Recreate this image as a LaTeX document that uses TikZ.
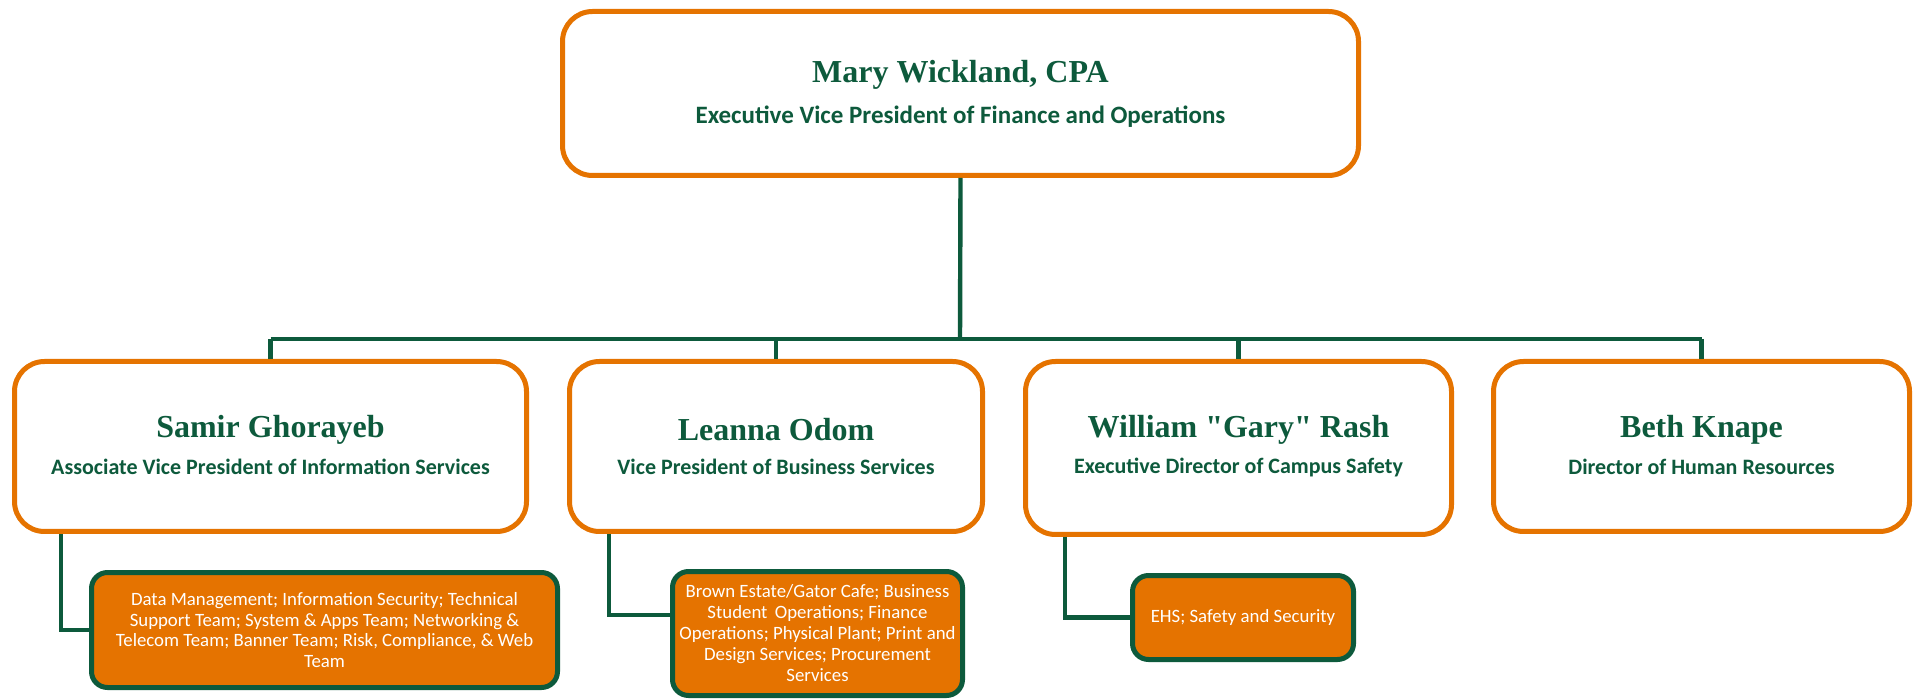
\documentclass[tikz,border=0pt]{standalone}
\usepackage{fontspec}
\setmainfont{Carlito}
\newfontfamily\namefont{Liberation Serif}
\definecolor{orgO}{HTML}{E57300}
\definecolor{orgG}{HTML}{0D5A3C}
\begin{document}
\begin{tikzpicture}[x=0.5pt,y=-0.5pt,
  bigbox/.style={draw=orgO, line width=2.5pt, rounded corners=15pt, fill=white, inner sep=0pt},
  smallbox/.style={draw=orgG, line width=2.5pt, rounded corners=8pt, fill=orgO, inner sep=0pt,
     text=white, align=center, font=\fontsize{9.4}{10.3}\selectfont},
  nametext/.style={text=orgG, font=\namefont\bfseries\fontsize{16}{18}\selectfont, inner sep=0pt},
  titletext/.style={text=orgG, font=\bfseries\fontsize{11}{13}\selectfont, inner sep=0pt},
  conn/.style={draw=orgG, line width=2.2pt}]
\useasboundingbox (0,0) rectangle (1921,699);
% top box
\node[bigbox, minimum width=398pt, minimum height=82pt] (top) at (960.5,93.5) {};
\node[nametext] (topn) at (960.5,75) {Mary Wickland, CPA};
\node[titletext, font=\bfseries\fontsize{12.5}{14}\selectfont] (topt) at (960.5,117) {Executive Vice President of Finance and Operations};
% second level
\node[bigbox, minimum width=256pt, minimum height=85pt] (b1) at (270.5,446.5) {};
\node[bigbox, minimum width=206.5pt, minimum height=85pt] (b2) at (776,446.5) {};
\node[bigbox, minimum width=213pt, minimum height=86.5pt] (b3) at (1238.5,448) {};
\node[bigbox, minimum width=208pt, minimum height=85pt] (b4) at (1701.5,446.5) {};
\node[nametext] (b1n) at (270.5,430) {Samir Ghorayeb};
\node[titletext] (b1t) at (270.5,467) {Associate Vice President of Information Services};
\node[nametext] (b2n) at (776,430) {Leanna Odom};
\node[titletext] (b2t) at (776,467) {Vice President of Business Services};
\node[nametext] (b3n) at (1238.5,430) {William "Gary" Rash};
\node[titletext] (b3t) at (1238.5,467) {Executive Director of Campus Safety};
\node[nametext] (b4n) at (1701.5,430) {Beth Knape};
\node[titletext] (b4t) at (1701.5,467) {Director of Human Resources};
% third level
\node[smallbox, minimum width=233pt, minimum height=57.5pt] (sA) at (324.5,630)
  {Data Management; Information Security; Technical\\Support Team; System \& Apps Team; Networking \&\\Telecom Team; Banner Team; Risk, Compliance, \& Web\\Team};
\node[smallbox, minimum width=145pt, minimum height=62pt, font=\fontsize{9.4}{10.5}\selectfont] (sB) at (817.5,633.5)
  {Brown Estate/Gator Cafe; Business\\Student\, Operations; Finance\\Operations; Physical Plant; Print and\\Design Services; Procurement\\Services};
\node[smallbox, minimum width=110.5pt, minimum height=42pt] (sC) at (1243,617.5)
  {EHS; Safety and Security};
% connectors
\coordinate (bus) at (960,339);
\coordinate (kA) at (61,0);
\coordinate (kB) at (609,0);
\coordinate (kC) at (1065,0);
\coordinate (yB) at (0,615);
\draw[conn] (top.south) -- (bus);
\draw[conn] (bus -| b1.north) -- (bus -| b4.north);
\draw[conn] (bus -| b1.north) -- (b1.north);
\draw[conn] (bus -| b2.north) -- (b2.north);
\draw[conn] (bus -| b3.north) -- (b3.north);
\draw[conn] (bus -| b4.north) -- (b4.north);
\draw[conn] (kA |- b1.south) |- (sA.west);
\draw[conn] (kB |- b2.south) |- (sB.west |- yB);
\draw[conn] (kC |- b3.south) |- (sC.west);
\end{tikzpicture}
\end{document}
